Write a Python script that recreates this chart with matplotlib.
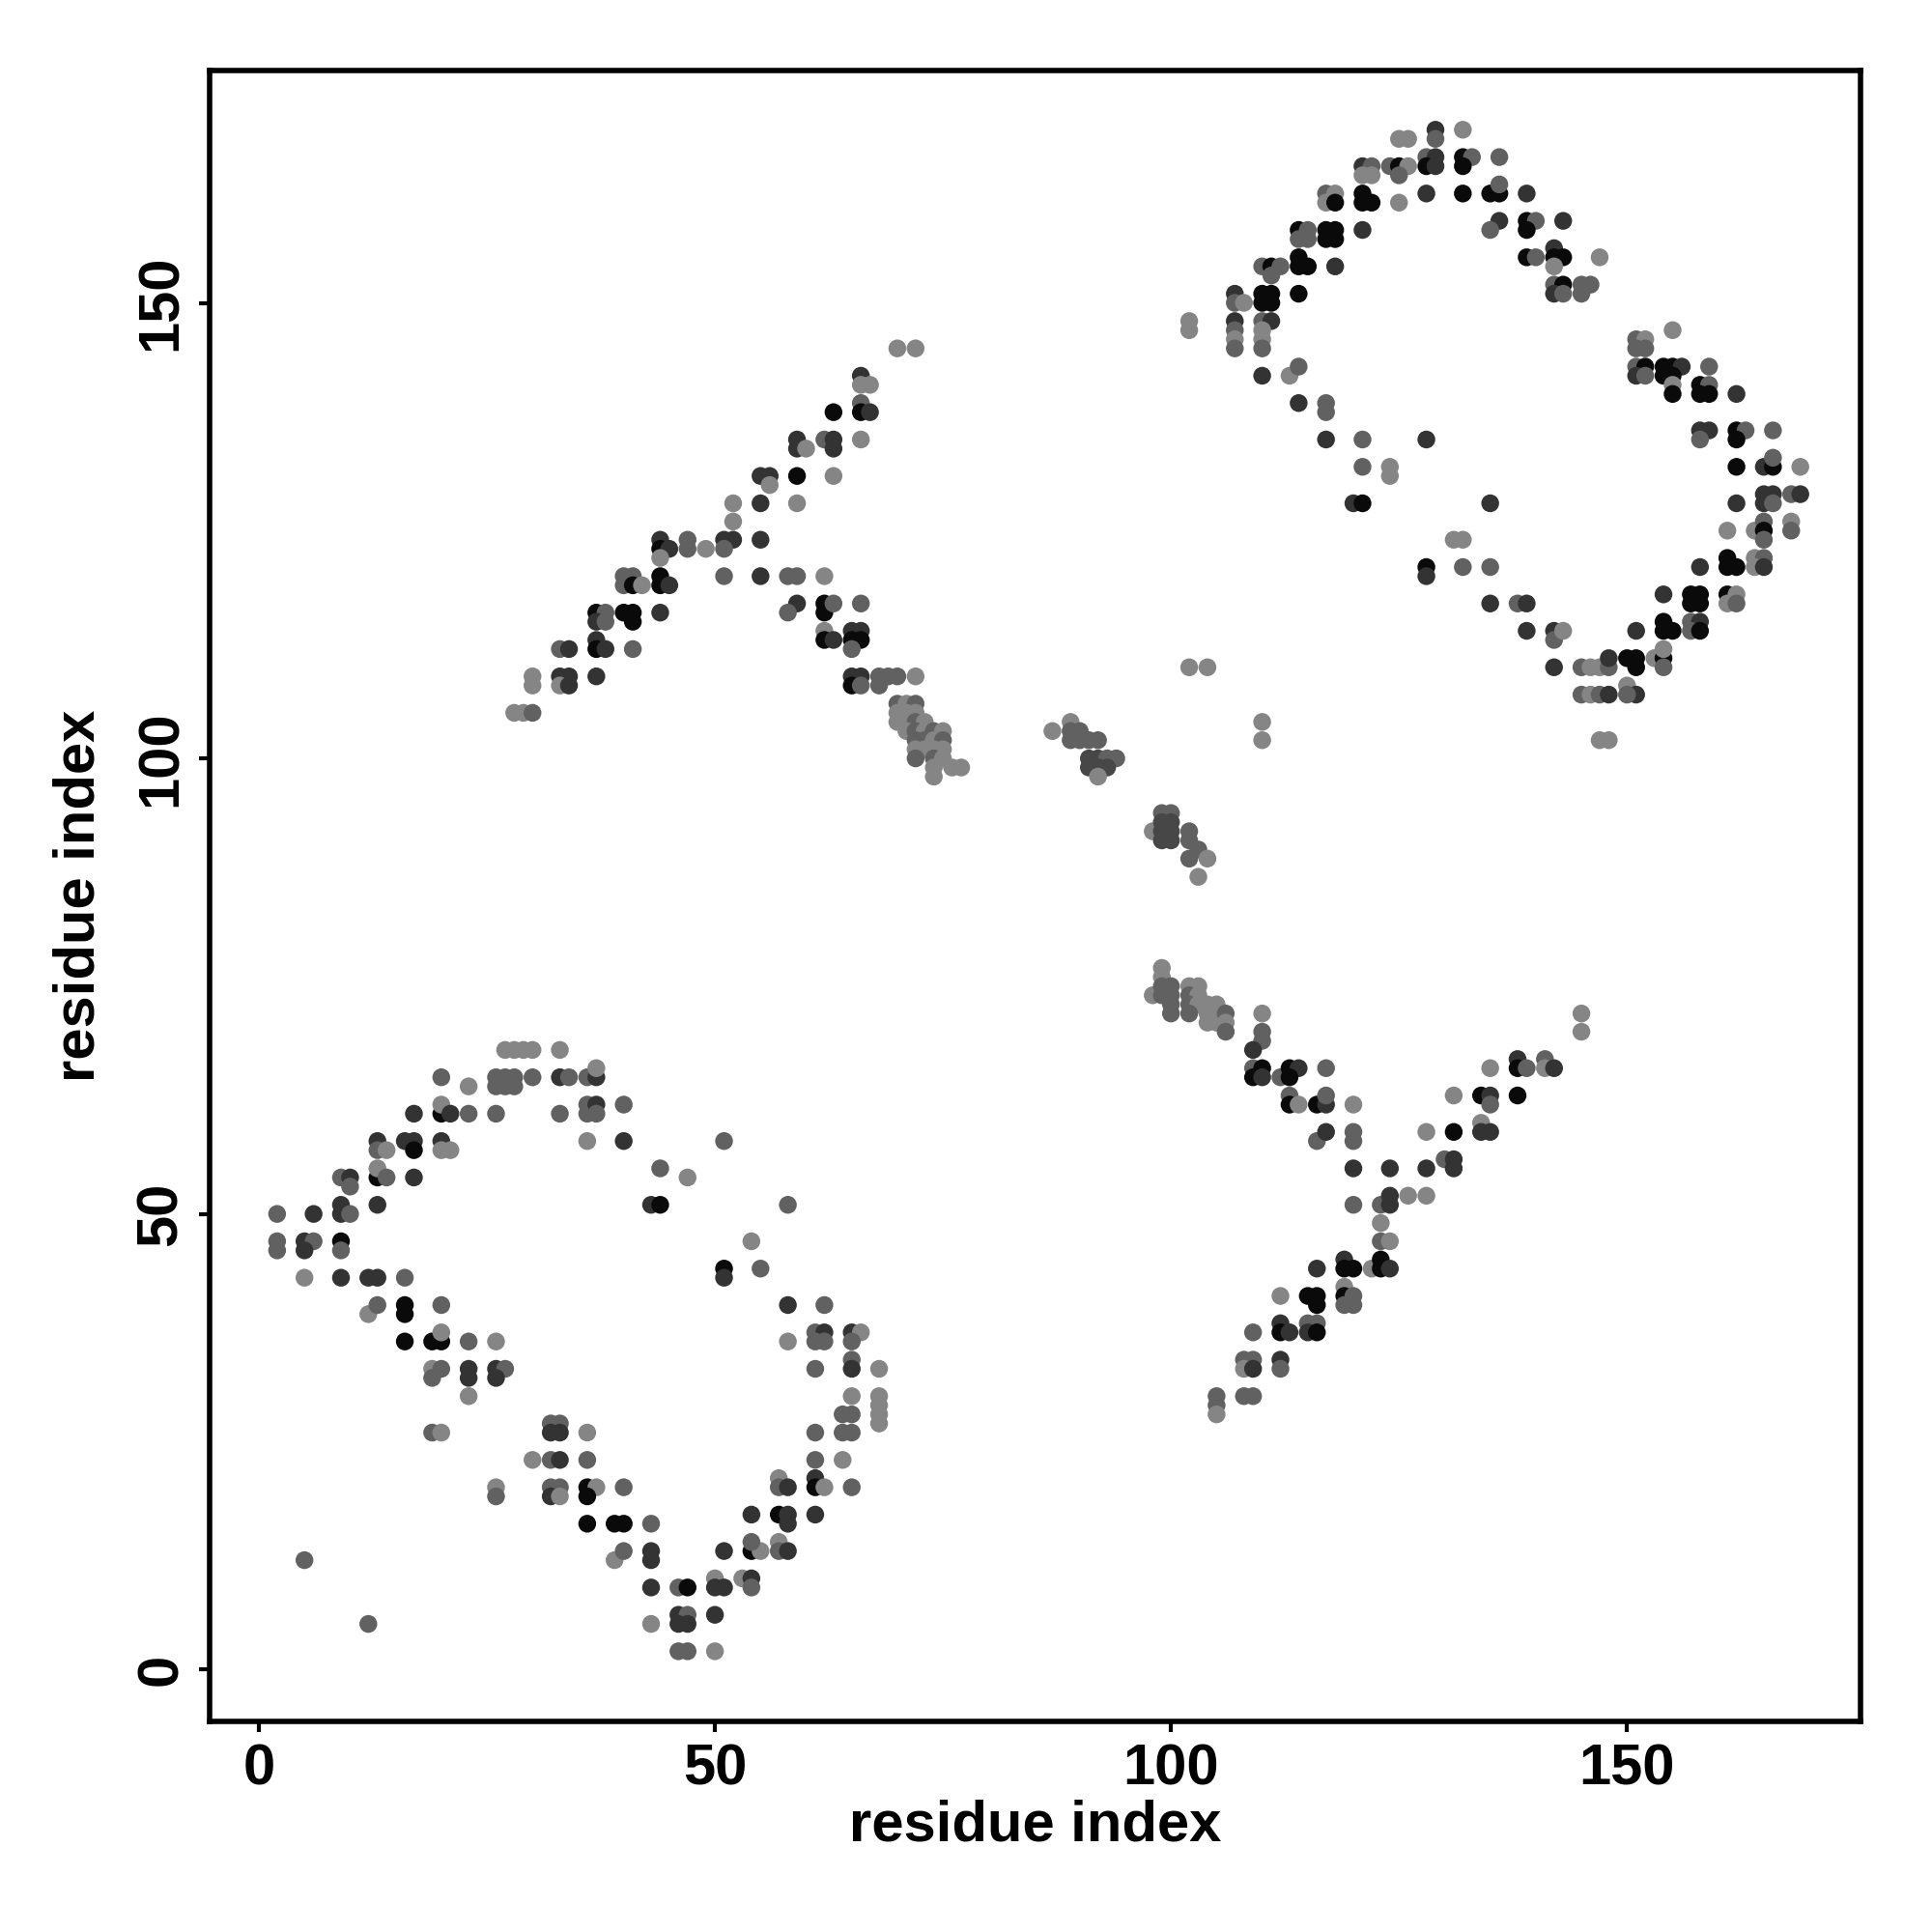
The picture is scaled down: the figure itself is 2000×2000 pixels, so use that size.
import matplotlib
matplotlib.use("Agg")
import matplotlib.pyplot as plt
import numpy as np

# contact map: (residue i, residue j, score); score 1 = darkest
# lower-left block
ll_block = [
    (27, 68, .07), (28, 68, .07), (29, 68, .07), (30, 68, .07), (33, 68, .07),
    (20, 65, .32), (23, 64, .07), (26, 65, .32), (26, 64, .32), (27, 65, .32), (27, 64, .32),
    (28, 65, .32), (28, 64, .32), (30, 65, .32), (33, 65, .64), (34, 65, .32), (36, 65, .32),
    (37, 65, .64), (37, 66, .07),
    (17, 61, .64), (20, 61, .93), (20, 62, .07), (21, 61, .64), (23, 61, .32), (26, 61, .32),
    (33, 61, .32), (36, 62, .32), (36, 61, .32), (37, 62, .64), (37, 61, .32), (36, 58, .07),
    (13, 58, .64), (13, 57, .32), (14, 57, .07), (16, 58, .64), (17, 58, .64), (17, 57, .93),
    (20, 58, .64), (20, 57, .07), (21, 57, .07),
    (9, 54, .32), (10, 54, .64), (10, 53, .32), (13, 54, .93), (13, 55, .07), (14, 54, .32),
    (17, 54, .64),
    (9, 51, .64), (9, 50, .64), (10, 50, .32), (13, 51, .64), (2, 50, .32), (6, 50, .64),
    (2, 47, .32), (2, 46, .32), (5, 47, .64), (6, 47, .32), (5, 46, .64), (9, 47, .93), (9, 46, .32),
    (5, 43, .07), (9, 43, .64), (12, 43, .64), (13, 43, .64), (16, 43, .32),
    (12, 39, .07), (13, 40, .32), (16, 40, .93), (16, 39, .93), (20, 40, .32),
    (16, 36, .93), (19, 36, .93), (20, 36, .93), (20, 37, .07), (23, 36, .32), (26, 36, .07),
    (19, 33, .07), (20, 33, .32), (19, 32, .32), (23, 33, .64), (23, 32, .64), (26, 33, .64),
    (27, 33, .32), (26, 32, .64), (23, 30, .07),
    (19, 26, .32), (20, 26, .07),
    (32, 27, .32), (33, 27, .32), (32, 26, .64), (33, 26, .64), (36, 26, .07),
    (30, 23, .07), (32, 23, .32), (33, 23, .64), (36, 23, .32),
    (26, 20, .07), (26, 19, .32), (32, 20, .32), (33, 20, .32), (32, 19, .64), (33, 19, .07),
    (36, 20, .93), (37, 20, .07), (36, 19, .93),
    (36, 16, .93), (39, 16, .93), (40, 16, .93), (43, 16, .32),
    (39, 12, .07), (40, 13, .32), (43, 13, .64), (43, 12, .64),
    (5, 12, .32), (12, 5, .32),
    (40, 62, .32), (40, 58, .64), (51, 58, .32), (44, 55, .32), (47, 54, .07), (43, 51, .64),
    (44, 51, .93), (58, 51, .32), (54, 47, .07), (51, 44, .93), (51, 43, .64), (55, 44, .32),
    (58, 40, .64), (62, 40, .32), (58, 36, .07), (61, 37, .32), (62, 37, .64), (61, 36, .32),
    (62, 36, .32), (65, 37, .64), (66, 37, .07), (65, 36, .32),
    (61, 33, .32), (65, 34, .32), (65, 33, .64), (68, 33, .07),
    (65, 30, .07), (68, 30, .07), (68, 29, .07), (68, 28, .07), (68, 27, .07), (64, 28, .32),
    (65, 28, .32), (64, 26, .32), (65, 26, .32), (61, 26, .32), (61, 23, .32), (64, 23, .07),
    (57, 21, .07), (57, 20, .32), (58, 20, .64), (61, 21, .64), (61, 20, .93), (62, 20, .07),
    (65, 20, .32), (40, 20, .32),
    (54, 17, .64), (57, 17, .93), (58, 17, .64), (58, 16, .64), (61, 17, .64),
    (51, 13, .64), (54, 13, .93), (55, 13, .07), (54, 14, .32), (57, 14, .07), (57, 13, .32),
    (58, 13, .64),
    (43, 9, .64), (46, 9, .32), (47, 9, .93), (50, 10, .07), (51, 9, .64), (50, 9, .64),
    (53, 10, .07), (54, 10, .64), (54, 9, .32),
    (43, 5, .07), (46, 6, .64), (47, 6, .32), (46, 5, .64), (47, 5, .64), (50, 6, .64),
    (46, 2, .32), (47, 2, .32), (50, 2, .07),
]

# upper-left off-diagonal block
ul_block = [
    (70, 145, .07), (72, 145, .07),
    (66, 142, .64), (66, 141, .07), (67, 141, .07),
    (63, 138, .93), (66, 139, .32), (66, 138, .93), (67, 138, .64),
    (59, 135, .64), (59, 134, .64), (60, 134, .07), (62, 135, .32), (63, 135, .64), (63, 134, .64),
    (66, 135, .07),
    (55, 131, .64), (56, 131, .64), (56, 130, .07), (59, 131, .93), (63, 131, .07),
    (52, 128, .07), (52, 126, .07), (55, 128, .64), (59, 128, .07),
    (44, 124, .64), (44, 123, .93), (45, 123, .64), (44, 122, .07), (47, 124, .32), (47, 123, .32),
    (49, 123, .07), (51, 124, .64), (52, 124, .64), (51, 123, .32), (55, 124, .64),
    (40, 120, .32), (41, 120, .32), (40, 119, .32), (41, 119, .93), (42, 119, .07), (44, 120, .93),
    (44, 119, .93), (45, 119, .64), (51, 120, .32), (55, 120, .64), (58, 120, .32), (59, 120, .32),
    (62, 120, .07),
    (59, 117, .64), (58, 116, .32), (62, 117, .93), (62, 116, .93), (63, 117, .32), (66, 117, .32),
    (37, 116, .93), (38, 116, .32), (37, 115, .64), (38, 115, .32), (40, 116, .93), (41, 116, .93),
    (41, 115, .93), (44, 116, .64),
    (62, 114, .07), (62, 113, .93), (63, 113, .64), (65, 114, .64), (66, 114, .64), (65, 113, .93),
    (66, 113, .93), (65, 112, .32),
    (33, 112, .32), (34, 112, .64), (37, 113, .64), (37, 112, .93), (38, 112, .64), (41, 112, .32),
    (65, 109, .64), (66, 109, .64), (65, 108, .93), (66, 108, .32), (68, 109, .32), (69, 109, .32),
    (70, 109, .32), (68, 108, .32), (72, 109, .07),
    (30, 109, .07), (30, 108, .07), (33, 109, .64), (34, 109, .64), (33, 108, .07), (34, 108, .64),
    (37, 109, .64),
    (70, 106, .32), (71, 106, .07), (72, 106, .32),
    (28, 105, .07), (29, 105, .07), (30, 105, .32),
    (70, 105, .07), (71, 105, .07), (72, 105, .07), (70, 104, .07), (71, 104, .07), (72, 104, .32),
    (73, 104, .07), (71, 103, .07), (72, 103, .32), (73, 103, .07), (74, 103, .32), (75, 103, .07),
    (72, 102, .32), (73, 102, .32), (74, 102, .07), (75, 102, .32), (72, 101, .07), (73, 101, .07),
    (74, 101, .07), (75, 101, .07),
    (72, 100, .32), (74, 100, .32), (75, 100, .07), (74, 99, .07), (76, 99, .07), (77, 99, .07),
    (74, 98, .07),
]

# middle, near the diagonal
mid_block = [
    (87, 103, .07), (89, 104, .07), (89, 103, .32), (89, 102, .32), (90, 103, .32), (90, 102, .32),
    (91, 102, .32), (92, 102, .32),
    (91, 100, .5), (92, 100, .5), (93, 100, .32), (94, 100, .32), (91, 99, .5), (92, 99, .5),
    (93, 99, .5), (92, 98, .07),
    (98, 92, .07), (99, 94, .32), (100, 94, .32), (99, 93, .5), (100, 93, .5), (99, 92, .5),
    (100, 92, .5), (99, 91, .5), (100, 91, .5), (102, 92, .32), (102, 91, .32), (103, 90, .32),
    (102, 89, .32), (104, 89, .07), (103, 87, .07),
    (110, 104, .07), (110, 102, .07), (102, 110, .07), (104, 110, .07),
]

# lower-right off-diagonal block
lr_block = [
    (99, 77, .07), (99, 76, .07), (98, 74, .07), (99, 75, .32), (99, 74, .32), (100, 75, .32),
    (100, 74, .32), (100, 73, .32), (100, 72, .32), (102, 75, .07), (103, 75, .07), (102, 74, .32),
    (103, 74, .07), (102, 73, .32), (103, 73, .07), (102, 72, .32), (104, 73, .07), (105, 73, .07),
    (104, 72, .07), (105, 72, .07), (104, 71, .07), (105, 71, .07), (106, 72, .32), (106, 71, .07),
    (106, 70, .32), (110, 72, .07),
    (110, 70, .32), (110, 69, .32), (109, 68, .64),
    (109, 66, .32), (110, 66, .93), (109, 65, .93), (110, 65, .64), (112, 65, .32), (113, 66, .93),
    (114, 66, .64), (113, 65, .93), (117, 66, .32),
    (113, 63, .32), (113, 62, .93), (114, 62, .07), (116, 62, .93), (117, 62, .64), (117, 63, .32),
    (120, 62, .07),
    (116, 58, .32), (117, 59, .64), (120, 59, .32), (120, 58, .32),
    (120, 55, .64), (124, 55, .64), (128, 55, .64),
    (120, 51, .32), (123, 51, .32), (124, 52, .64), (124, 51, .64), (126, 52, .07), (128, 52, .07),
    (123, 49, .07), (123, 47, .32), (124, 47, .07),
    (116, 44, .64), (119, 45, .64), (119, 44, .93), (120, 44, .93), (122, 44, .07), (123, 45, .93),
    (123, 44, .93), (124, 44, .64),
    (112, 41, .07), (115, 41, .93), (116, 41, .93), (116, 40, .93), (119, 42, .07), (119, 41, .93),
    (119, 40, .32), (120, 41, .32), (120, 40, .32),
    (109, 37, .32), (112, 38, .64), (112, 37, .93), (113, 37, .64), (115, 38, .32), (116, 38, .32),
    (115, 37, .64), (116, 37, .93),
    (108, 34, .32), (109, 34, .32), (108, 33, .07), (109, 33, .64), (112, 34, .64), (112, 33, .32),
    (105, 30, .32), (105, 29, .32), (105, 28, .07), (108, 30, .32), (109, 30, .32),
    (145, 72, .07), (145, 70, .07),
    (138, 67, .64), (138, 66, .93), (139, 66, .32), (141, 67, .32), (141, 66, .07), (142, 66, .64),
    (135, 66, .07),
    (131, 63, .07), (134, 63, .93), (135, 63, .64), (135, 62, .32), (138, 63, .93),
    (128, 59, .07), (131, 59, .93), (134, 60, .07), (134, 59, .64), (135, 59, .64),
    (130, 56, .32), (131, 56, .64), (131, 55, .64),
]

# upper-right block
ur_block = [
    (125, 168, .07), (126, 168, .07), (129, 169, .64), (129, 168, .32), (132, 169, .07),
    (121, 165, .64), (122, 165, .32), (121, 164, .07), (122, 164, .07), (124, 165, .32),
    (125, 165, .93), (126, 165, .07), (125, 164, .32), (128, 166, .32), (129, 166, .64),
    (128, 165, .93), (129, 165, .64), (132, 166, .93), (133, 166, .32), (132, 165, .93),
    (136, 166, .32),
    (117, 162, .32), (118, 162, .07), (117, 161, .07), (118, 161, .93), (121, 162, .93),
    (122, 161, .93), (121, 161, .93), (125, 161, .07), (128, 162, .64), (132, 162, .93),
    (135, 162, .93), (136, 162, .93), (136, 163, .32), (139, 162, .64),
    (136, 159, .64), (135, 158, .32), (139, 159, .93), (140, 159, .32), (139, 158, .93),
    (143, 159, .64),
    (114, 158, .93), (115, 158, .32), (114, 157, .32), (115, 157, .32), (117, 158, .93),
    (118, 158, .93), (117, 157, .93), (118, 157, .93), (121, 158, .64),
    (110, 154, .32), (111, 154, .93), (112, 154, .32), (111, 153, .32), (114, 155, .93),
    (115, 154, .93), (114, 154, .93), (118, 154, .64),
    (139, 155, .93), (140, 155, .32), (142, 156, .64), (142, 155, .93), (143, 155, .93),
    (142, 154, .07), (147, 155, .07),
    (107, 151, .64), (107, 150, .32), (108, 150, .07), (110, 151, .93), (111, 151, .93),
    (110, 150, .93), (111, 150, .93), (114, 151, .93),
    (142, 152, .32), (143, 152, .93), (142, 151, .64), (143, 151, .32), (145, 152, .32),
    (146, 152, .32), (145, 151, .32),
    (102, 148, .07), (102, 147, .07), (107, 148, .64), (107, 147, .32), (107, 146, .07),
    (107, 145, .32), (110, 148, .32), (111, 148, .64), (110, 147, .07), (110, 146, .07),
    (110, 145, .32),
    (155, 147, .07), (151, 146, .32), (152, 146, .07), (151, 145, .32), (152, 145, .32),
    (110, 142, .64), (113, 142, .07), (114, 143, .32),
    (151, 143, .32), (152, 143, .93), (151, 142, .64), (152, 142, .32), (154, 143, .93),
    (155, 143, .93), (156, 143, .64), (154, 142, .93), (155, 142, .93), (159, 143, .32),
    (114, 139, .64), (117, 139, .32), (117, 138, .32), (155, 141, .07), (155, 140, .93),
    (158, 141, .93), (159, 141, .32), (158, 140, .93), (159, 140, .93), (162, 140, .64),
    (117, 135, .64), (121, 135, .32), (128, 135, .64), (158, 136, .64), (159, 136, .64),
    (158, 135, .32), (162, 136, .93), (163, 136, .32), (162, 135, .93), (166, 136, .32),
    (121, 132, .32), (124, 132, .07), (124, 131, .07), (162, 132, .93), (165, 132, .64),
    (166, 132, .93), (166, 133, .32), (169, 132, .07),
    (120, 128, .64), (121, 128, .93), (135, 128, .64), (165, 129, .64), (166, 129, .64),
    (165, 128, .64), (166, 128, .32), (168, 129, .32), (169, 129, .64), (162, 128, .64),
    (131, 124, .07), (132, 124, .07), (161, 125, .07), (164, 125, .07), (165, 126, .32),
    (165, 125, .93), (165, 124, .32), (168, 126, .07), (168, 125, .32),
    (128, 121, .93), (128, 120, .64), (132, 121, .32), (135, 121, .32), (158, 121, .64),
    (161, 122, .93), (162, 121, .93), (161, 121, .93), (164, 122, .07), (165, 122, .32),
    (164, 121, .07), (165, 121, .64),
    (135, 117, .64), (154, 118, .64), (157, 118, .93), (158, 118, .93), (157, 117, .93),
    (158, 117, .93), (161, 118, .93), (162, 118, .07), (161, 117, .07), (162, 117, .32),
    (138, 117, .32), (139, 117, .64),
    (139, 114, .64), (142, 114, .64), (142, 113, .32), (143, 114, .07), (151, 114, .64),
    (154, 115, .93), (155, 114, .93), (154, 114, .93), (157, 115, .32), (158, 115, .64),
    (157, 114, .32), (158, 114, .93),
    (142, 110, .64), (145, 110, .32), (146, 110, .07), (147, 110, .07), (148, 110, .32),
    (148, 111, .64), (150, 111, .93), (151, 111, .93), (151, 110, .93), (153, 111, .07),
    (154, 111, .93), (154, 110, .32), (154, 112, .07),
    (145, 107, .32), (146, 107, .07), (147, 107, .32), (148, 107, .64), (150, 108, .07),
    (151, 107, .64), (150, 107, .32),
    (147, 102, .07), (148, 102, .07),
]

ticks = [0, 50, 100, 150]

# -------------------------------------------------------------------------------------------------

plt.rcParams['font.family'] = ['Liberation Sans', 'DejaVu Sans']
plt.rcParams['font.weight'] = 'bold'

fig = plt.figure(figsize=(10, 10), dpi=200)
ax = fig.add_axes([0.1085, 0.109, 0.8545, 0.8545])

for block in [ll_block, ul_block, mid_block, lr_block, ur_block]:
    data = np.array(block)
    grey = 0.56 * (1 - data[:, 2])
    colors = [(g, g, g) for g in grey]
    ax.scatter(data[:, 0], data[:, 1], s=44, c=colors, linewidths=0, zorder=2)

ax.set_xlim(-5.4, 175.6)
ax.set_ylim(-5.7, 175.5)
ax.set_xticks(ticks)
ax.set_yticks(ticks)
ax.set_xticklabels([str(t) for t in ticks], fontsize=21.5, fontweight='bold')
ax.set_yticklabels([str(t) for t in ticks], fontsize=21.5, fontweight='bold',
                   rotation=90, va='center')
ax.tick_params(direction='out', length=4, width=1.5, pad=4)
for sp in ax.spines.values():
    sp.set_linewidth(2.0)
ax.set_xlabel('residue index', fontsize=21.5, fontweight='bold', labelpad=1)
ax.set_ylabel('residue index', fontsize=21.5, fontweight='bold', labelpad=11)

plt.savefig('out.png', dpi=200)
